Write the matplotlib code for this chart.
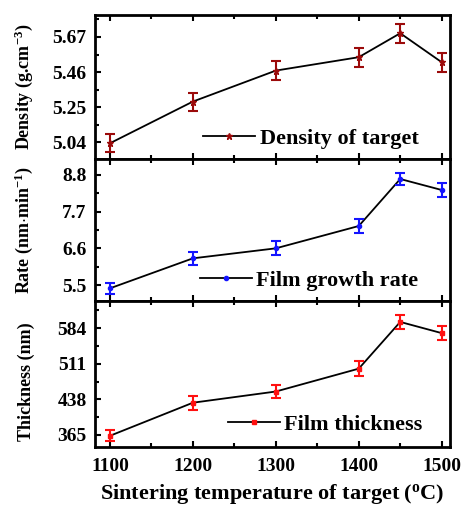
import matplotlib
matplotlib.use("Agg")
import matplotlib.pyplot as plt
from matplotlib.ticker import MultipleLocator, FixedLocator

plt.rcParams['font.family'] = ['Liberation Serif', 'DejaVu Serif']
plt.rcParams['font.weight'] = 'bold'
plt.rcParams['mathtext.fontset'] = 'custom'
plt.rcParams['mathtext.rm'] = 'Liberation Serif:bold'
plt.rcParams['mathtext.bf'] = 'Liberation Serif:bold'
plt.rcParams['mathtext.default'] = 'rm'

temps = [1100, 1200, 1300, 1400, 1450, 1500]

density = [5.035, 5.284, 5.469, 5.549, 5.692, 5.519]
density_err = [0.055, 0.054, 0.056, 0.056, 0.058, 0.056]

rate = [5.40, 6.30, 6.60, 7.27, 8.68, 8.35]
rate_err = [0.16, 0.20, 0.21, 0.22, 0.19, 0.22]

thickness = [363, 431, 454, 501, 597, 574]
thickness_err = [11, 14, 14, 16, 14, 14]

density_ticks = [5.04, 5.25, 5.46, 5.67]
rate_ticks = [5.5, 6.6, 7.7, 8.8]
thickness_ticks = [365, 438, 511, 584]
x_ticks = [1100, 1200, 1300, 1400, 1500]

W, H = 462, 505
fig = plt.figure(figsize=(W / 100, H / 100), dpi=100)

left = 95 / W
width = 355 / W
boxes = [(15, 159), (159, 301), (301, 447)]

panels = [
    dict(y=density, err=density_err, color='#9b0a0a', marker='*', ms=5,
         ticks=density_ticks, minor=0.105, ylim=(4.941, 5.801), fmt='{:.2f}',
         ylabel=r'Density (g.cm$^{-3}$)', label='Density of target',
         leg=(0.924, 0.04), lab_y=0.5),
    dict(y=rate, err=rate_err, color='#1414ff', marker='o', ms=3,
         ticks=rate_ticks, minor=0.55, ylim=(5.02, 9.28), fmt='{:.1f}',
         ylabel=r'Rate (nm$\cdot$min$^{-1}$)', label='Film growth rate',
         leg=(0.924, 0.04), lab_y=0.5),
    dict(y=thickness, err=thickness_err, color='#ff1010', marker='s', ms=3,
         ticks=thickness_ticks, minor=36.5, ylim=(340, 640), fmt='{:.0f}',
         ylabel='Thickness (nm)', label='Film thickness',
         leg=(0.935, 0.05), lab_y=0.45),
]

axes = []
for i, (p, (t, b)) in enumerate(zip(panels, boxes)):
    ax = fig.add_axes([left, 1 - b / H, width, (b - t) / H])
    axes.append(ax)
    ax.plot(temps, p['y'], color='black', lw=1.3, zorder=2)
    ax.errorbar(temps, p['y'], yerr=p['err'], fmt=p['marker'], color=p['color'],
                ms=p['ms'], ecolor=p['color'], elinewidth=1.5, capsize=3.5,
                capthick=1.5, zorder=3)
    h, = ax.plot([], [], color='black', lw=1.3, marker=p['marker'],
                 mfc=p['color'], mec=p['color'], ms=p['ms'])
    ax.legend([h], [p['label']], loc='lower right', bbox_to_anchor=p['leg'],
              frameon=False, prop=dict(family='Liberation Serif', weight='bold', size=16),
              handlelength=2.35, handletextpad=0.2, borderpad=0.2, borderaxespad=0.0)
    ax.set_xlim(1082, 1510)
    ax.set_ylim(*p['ylim'])
    ax.set_yticks(p['ticks'])
    ax.set_yticklabels([p['fmt'].format(v) for v in p['ticks']])
    ax.yaxis.set_minor_locator(FixedLocator([v + p['minor'] for v in [p['ticks'][0] - 2 * p['minor']] + p['ticks']]))
    ax.set_xticks(x_ticks)
    ax.xaxis.set_minor_locator(MultipleLocator(50))
    ax.tick_params(which='both', direction='in', top=True, right=False,
                   width=1.5, labelsize=14)
    ax.tick_params(which='major', length=4.5)
    ax.tick_params(which='minor', length=3)
    ax.tick_params(axis='y', pad=6)
    for s in ax.spines.values():
        s.set_linewidth(2.0)
    if i < 2:
        ax.tick_params(labelbottom=False)
    ax.set_ylabel(p['ylabel'], fontsize=13, fontweight='bold')
    ax.yaxis.set_label_coords(-0.17, p['lab_y'])

axes[2].set_xlabel(r'Sintering temperature of target ($^{\rm o}$C)', fontsize=16,
                   fontweight='bold', labelpad=5)
axes[2].tick_params(axis='x', pad=8)

fig.savefig('out.png', dpi=100)
